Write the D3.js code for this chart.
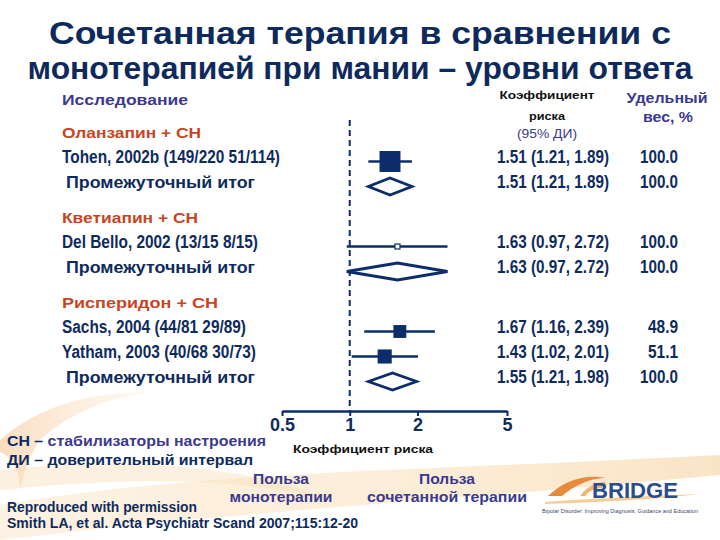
<!DOCTYPE html>
<html><head><meta charset="utf-8">
<script src="https://cdn.jsdelivr.net/npm/d3@7"></script>
<style>html,body{margin:0;padding:0;background:#fff;}svg{display:block;}</style>
</head><body>
<script>
// ---- data ----
const titleLines = ["Сочетанная терапия в сравнении с", "монотерапией при мании – уровни ответа"];
const groups = ["Оланзапин + СН", "Кветиапин + СН", "Рисперидон  + СН"];
const studies = ["Tohen, 2002b (149/220 51/114)", "Del Bello, 2002 (13/15 8/15)", "Sachs, 2004 (44/81 29/89)", "Yatham, 2003 (40/68 30/73)"];
const studyGroup = [0, 1, 2, 2];
const studyRR = [1.51, 1.63, 1.67, 1.43];
const studyLo = [1.21, 0.97, 1.16, 1.02];
const studyHi = [1.89, 2.72, 2.39, 2.01];
const studyWeight = ["100.0", "100.0", "48.9", "51.1"];
const studyOverallWeight = [53, 3, 20, 24]; // estimated from square areas
const subtotalLabel = "Промежуточный итог";
const subRR = [1.51, 1.63, 1.55];
const subLo = [1.21, 0.97, 1.21];
const subHi = [1.89, 2.72, 1.98];
const subWeight = ["100.0", "100.0", "100.0"];
const axisTicks = [0.5, 1, 2, 5];
const axisTickLabels = ["0.5", "1", "2", "5"];

// ---- setup ----
const W = 720, H = 540;
const navy = "#0f2b5e", mark = "#0d2c6a", purple = "#3b3a8e", orange = "#c8461f";
const svg = d3.select("body").append("svg").attr("width", W).attr("height", H);

// background swooshes
const defs = svg.append("defs");
const g1 = defs.append("linearGradient").attr("id", "sw1").attr("x1", "0").attr("x2", "1").attr("y1", "0").attr("y2", "0");
g1.append("stop").attr("offset", "0").attr("stop-color", "#f6c18e").attr("stop-opacity", 0.55);
g1.append("stop").attr("offset", "1").attr("stop-color", "#f9dcb5").attr("stop-opacity", 0.15);
const g2 = defs.append("linearGradient").attr("id", "sw2").attr("x1", "0").attr("x2", "1").attr("y1", "0").attr("y2", "0");
g2.append("stop").attr("offset", "0").attr("stop-color", "#fbe6c8").attr("stop-opacity", 0.5);
g2.append("stop").attr("offset", "0.6").attr("stop-color", "#f8d7a6").attr("stop-opacity", 0.45);
g2.append("stop").attr("offset", "1").attr("stop-color", "#f5c98d").attr("stop-opacity", 0.5);
const bg = svg.append("g");
bg.append("path").attr("d", "M0,440 C40,405 90,392 150,392 C110,398 70,412 40,440 C30,455 25,470 20,490 C20,470 10,455 0,452 Z").attr("fill", "url(#sw1)");
bg.append("path").attr("d", "M0,505 C200,470 450,470 720,455 L720,475 C460,500 250,510 0,540 Z").attr("fill", "url(#sw2)");
bg.append("path").attr("d", "M0,470 C150,455 260,470 330,500 C250,480 150,475 0,490 Z").attr("fill", "#f9dfbd").attr("opacity", 0.45);

function txt(x, y, s, o) {
  const t = svg.append("text").attr("x", x).attr("y", y).text(s)
    .attr("font-family", o.family || "'Liberation Sans', Arial, sans-serif")
    .attr("font-weight", o.weight || "bold")
    .attr("font-size", o.size || 15)
    .attr("fill", o.fill || navy)
    .attr("text-anchor", o.anchor || "start");
  if (o.len) t.attr("textLength", o.len).attr("lengthAdjust", "spacingAndGlyphs");
  return t;
}

// title
txt(360, 44, titleLines[0], {size: 32, anchor: "middle", len: 622, fill: "#0e2a5c"});
txt(360, 79, titleLines[1], {size: 32, anchor: "middle", len: 665, fill: "#0e2a5c"});

// headers
txt(62, 105, "Исследование", {size: 15, fill: purple, len: 126});
txt(547, 99, "Коэффициент", {size: 11, fill: "#111", anchor: "middle", len: 95});
txt(547, 120, "риска", {size: 11, fill: "#111", anchor: "middle", len: 36});
txt(547, 138, "(95% ДИ)", {size: 13, fill: purple, weight: "normal", anchor: "middle", len: 60});
txt(667, 103, "Удельный", {size: 15, fill: purple, anchor: "middle", len: 81});
txt(668, 122, "вес, %", {size: 15, fill: purple, anchor: "middle", len: 50});

// x scale (log)
const x = d3.scaleLog().domain([0.5, 5]).range([282, 507]);
const axisY = 411;

// row layout
const rowY = (i, gi) => 138 + i * 25 + gi * 10;
const narrow = "'Liberation Sans Narrow', 'Liberation Sans', Arial, sans-serif";

// reference (null) dashed line
svg.append("line").attr("x1", x(1)).attr("x2", x(1)).attr("y1", 120).attr("y2", axisY)
  .attr("stroke", mark).attr("stroke-width", 2).attr("stroke-dasharray", "6,4");

const groupLen = [139, 136, 156];
const studyLen = [218, 196, 184, 194];
const sq = d3.scaleSqrt().domain([0, 100]).range([0, 28.8]);

let idx = 0;
groups.forEach((gname, gi) => {
  txt(62, rowY(idx, gi), gname, {size: 15, fill: orange, len: groupLen[gi]});
  idx++;
  studies.forEach((s, si) => {
    if (studyGroup[si] !== gi) return;
    const y = rowY(idx, gi);
    txt(62, y, s, {size: 18, family: narrow, len: studyLen[si]});
    txt(497, y, `${studyRR[si].toFixed(2)} (${studyLo[si].toFixed(2)}, ${studyHi[si].toFixed(2)})`, {size: 18, family: narrow, len: 112});
    const wl = studyWeight[si].length === 5 ? 38 : 30;
    txt(678, y, studyWeight[si], {size: 18, family: narrow, anchor: "end", len: wl});
    const cy = y - 1.5;
    svg.append("line").attr("x1", x(studyLo[si])).attr("x2", x(studyHi[si])).attr("y1", cy).attr("y2", cy)
      .attr("stroke", mark).attr("stroke-width", 2.5);
    const s2 = sq(studyOverallWeight[si]);
    const small = s2 < 7;
    svg.append("rect").attr("x", x(studyRR[si]) - s2 / 2).attr("y", cy - s2 / 2).attr("width", s2).attr("height", s2)
      .attr("fill", small ? "#fff" : mark).attr("stroke", mark).attr("stroke-width", small ? 1.2 : 0);
    idx++;
  });
  const y = rowY(idx, gi);
  txt(66, y, subtotalLabel, {size: 17, len: 189});
  txt(497, y, `${subRR[gi].toFixed(2)} (${subLo[gi].toFixed(2)}, ${subHi[gi].toFixed(2)})`, {size: 18, family: narrow, len: 112});
  txt(678, y, subWeight[gi], {size: 18, family: narrow, anchor: "end", len: 38});
  const cy = y - 1.5, hh = 8.5;
  svg.append("path").attr("d", `M${x(subLo[gi])},${cy} L${x(subRR[gi])},${cy - hh} L${x(subHi[gi])},${cy} L${x(subRR[gi])},${cy + hh} Z`)
    .attr("fill", "#fff").attr("stroke", mark).attr("stroke-width", 2.8).attr("stroke-linejoin", "miter");
  idx++;
});

// axis
const axis = d3.axisBottom(x).tickValues(axisTicks).tickFormat((d, i) => axisTickLabels[i]).tickSize(5).tickSizeOuter(0);
const ag = svg.append("g").attr("transform", `translate(0,${axisY})`).call(axis);
ag.select(".domain").attr("stroke", mark).attr("stroke-width", 2.6);
ag.selectAll(".tick line").attr("stroke", mark).attr("stroke-width", 2);
ag.selectAll(".tick text").attr("font-family", narrow).attr("font-weight", "bold").attr("font-size", 18).attr("fill", navy).attr("dy", "0.8em").attr("y", 6);
txt(293, 453, "Коэффициент риска", {size: 11, fill: "#111", len: 140});

// footer notes
const f1 = txt(7, 446, "", {size: 15, len: 259});
f1.append("tspan").text("СН – ").attr("fill", navy);
f1.append("tspan").text("стабилизаторы настроения").attr("fill", purple);
txt(7, 465, "ДИ – доверительный интервал", {size: 15, len: 246});
txt(281, 484, "Польза", {size: 15, fill: purple, anchor: "middle", len: 56});
txt(281, 502, "монотерапии", {size: 15, fill: purple, anchor: "middle", len: 103});
txt(447, 484, "Польза", {size: 15, fill: purple, anchor: "middle", len: 56});
txt(447, 502, "сочетанной терапии", {size: 15, fill: purple, anchor: "middle", len: 160});
txt(7, 512, "Reproduced with permission", {size: 14, family: narrow, len: 190});
txt(7, 528, "Smith LA, et al. Acta Psychiatr Scand 2007;115:12-20", {size: 14, family: narrow, len: 351});

// BRIDGE logo
const lg = svg.append("g");
lg.append("path").attr("d", "M548,496 C565,480 585,474 606,478 C590,478 575,485 562,496 Z").attr("fill", "#e98a3a");
lg.append("path").attr("d", "M580,496 C588,486 596,482 606,482 L602,488 C594,488 588,492 585,496 Z").attr("fill", "#f2b36a");
lg.append("path").attr("d", "M545,502 C600,498 650,496 700,494 C650,500 600,502 545,504 Z").attr("fill", "#f3c27d").attr("opacity", 0.8);
txt(592, 498, "BRIDGE", {size: 22, fill: "#2c4b8c", family: "'Liberation Sans', Arial, sans-serif", len: 86});
txt(542, 513, "Bipolar Disorder: Improving Diagnosis, Guidance and Education", {size: 6, weight: "normal", fill: "#3a4a6a", len: 156});
</script>
</body></html>
